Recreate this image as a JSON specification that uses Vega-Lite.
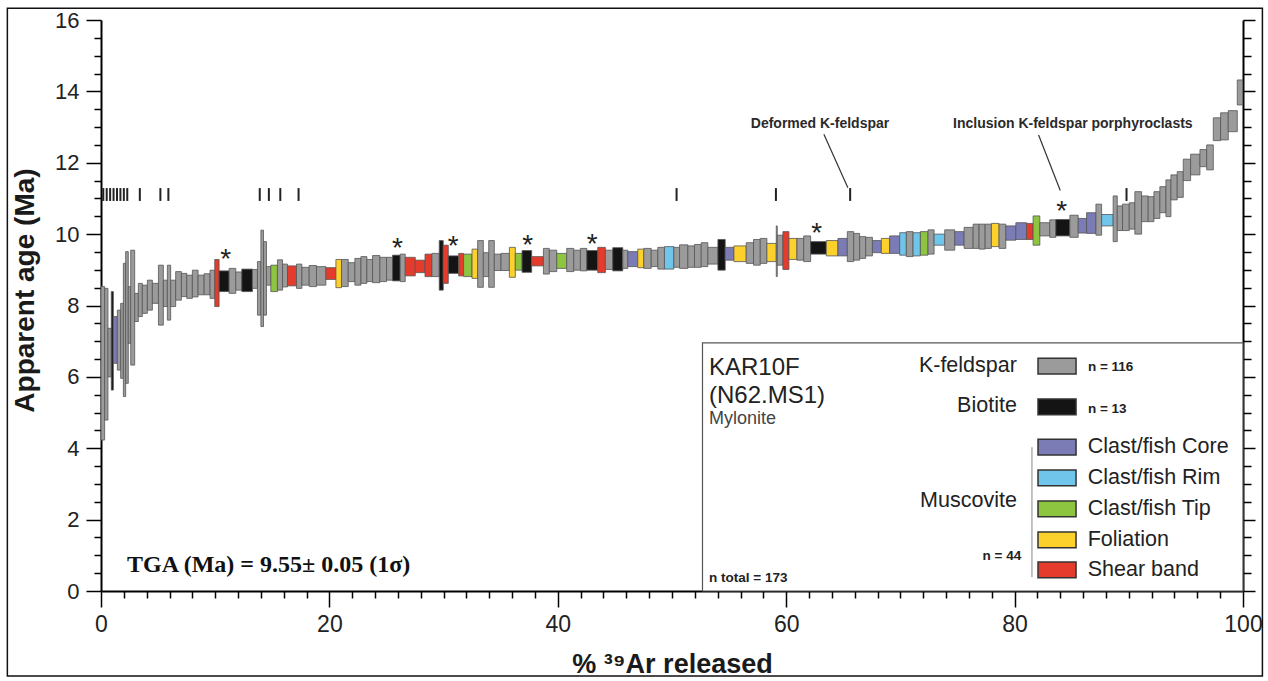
{
"$schema": "https://vega.github.io/schema/vega-lite/v6.json",
"width": 1142, "height": 571,
"autosize": "none",
"padding": {"left": 101, "top": 20, "right": 25, "bottom": 90},
"background": "white",
"config": {"font": "Liberation Sans", "view": {"stroke": null}, "axis": {"grid": false}},
"resolve": {"axis": {"y": "independent", "x": "independent"}},
"datasets": {
"steps": [
{"x0":0.00,"x1":0.32,"lo":4.23,"hi":8.53,"mineral":"K-feldspar"},
{"x0":0.32,"x1":0.61,"lo":4.79,"hi":8.48,"mineral":"K-feldspar"},
{"x0":0.61,"x1":0.90,"lo":6.00,"hi":7.36,"mineral":"K-feldspar"},
{"x0":0.90,"x1":1.08,"lo":5.63,"hi":8.39,"mineral":"Biotite"},
{"x0":1.08,"x1":1.43,"lo":6.38,"hi":7.69,"mineral":"Clast/fish Core"},
{"x0":1.43,"x1":1.72,"lo":6.19,"hi":7.87,"mineral":"K-feldspar"},
{"x0":1.72,"x1":1.96,"lo":5.96,"hi":8.06,"mineral":"K-feldspar"},
{"x0":1.96,"x1":2.16,"lo":5.45,"hi":9.18,"mineral":"K-feldspar"},
{"x0":2.16,"x1":2.39,"lo":5.82,"hi":9.51,"mineral":"K-feldspar"},
{"x0":2.39,"x1":2.60,"lo":6.94,"hi":8.53,"mineral":"K-feldspar"},
{"x0":2.60,"x1":2.95,"lo":6.33,"hi":9.55,"mineral":"K-feldspar"},
{"x0":2.95,"x1":3.27,"lo":7.55,"hi":8.34,"mineral":"K-feldspar"},
{"x0":3.27,"x1":3.62,"lo":7.69,"hi":8.62,"mineral":"K-feldspar"},
{"x0":3.62,"x1":4.06,"lo":7.78,"hi":8.57,"mineral":"K-feldspar"},
{"x0":4.06,"x1":4.50,"lo":7.87,"hi":8.71,"mineral":"K-feldspar"},
{"x0":4.50,"x1":5.03,"lo":8.06,"hi":8.62,"mineral":"K-feldspar"},
{"x0":5.03,"x1":5.46,"lo":7.45,"hi":9.13,"mineral":"K-feldspar"},
{"x0":5.46,"x1":5.81,"lo":7.97,"hi":8.71,"mineral":"K-feldspar"},
{"x0":5.81,"x1":6.10,"lo":7.59,"hi":9.13,"mineral":"K-feldspar"},
{"x0":6.10,"x1":6.54,"lo":7.97,"hi":8.71,"mineral":"K-feldspar"},
{"x0":6.54,"x1":7.04,"lo":8.15,"hi":8.95,"mineral":"K-feldspar"},
{"x0":7.04,"x1":7.51,"lo":8.25,"hi":8.90,"mineral":"K-feldspar"},
{"x0":7.51,"x1":8.00,"lo":8.20,"hi":8.85,"mineral":"K-feldspar"},
{"x0":8.00,"x1":8.50,"lo":8.24,"hi":8.99,"mineral":"K-feldspar"},
{"x0":8.50,"x1":9.03,"lo":8.30,"hi":8.85,"mineral":"K-feldspar"},
{"x0":9.03,"x1":9.55,"lo":8.30,"hi":8.89,"mineral":"K-feldspar"},
{"x0":9.55,"x1":9.96,"lo":8.20,"hi":8.99,"mineral":"K-feldspar"},
{"x0":9.96,"x1":10.34,"lo":7.97,"hi":9.29,"mineral":"Shear band"},
{"x0":10.34,"x1":11.22,"lo":8.39,"hi":8.97,"mineral":"Biotite"},
{"x0":11.22,"x1":11.80,"lo":8.34,"hi":9.04,"mineral":"K-feldspar"},
{"x0":11.80,"x1":12.33,"lo":8.43,"hi":8.94,"mineral":"K-feldspar"},
{"x0":12.33,"x1":13.26,"lo":8.39,"hi":9.02,"mineral":"Biotite"},
{"x0":13.26,"x1":13.70,"lo":8.48,"hi":9.01,"mineral":"K-feldspar"},
{"x0":13.70,"x1":14.00,"lo":7.73,"hi":9.23,"mineral":"K-feldspar"},
{"x0":14.00,"x1":14.23,"lo":7.41,"hi":10.11,"mineral":"K-feldspar"},
{"x0":14.23,"x1":14.49,"lo":7.73,"hi":9.79,"mineral":"K-feldspar"},
{"x0":14.49,"x1":14.87,"lo":8.57,"hi":9.09,"mineral":"K-feldspar"},
{"x0":14.87,"x1":15.45,"lo":8.39,"hi":9.13,"mineral":"Clast/fish Tip"},
{"x0":15.45,"x1":15.90,"lo":8.43,"hi":9.28,"mineral":"K-feldspar"},
{"x0":15.90,"x1":16.33,"lo":8.52,"hi":9.16,"mineral":"K-feldspar"},
{"x0":16.33,"x1":17.12,"lo":8.55,"hi":9.11,"mineral":"Shear band"},
{"x0":17.12,"x1":17.59,"lo":8.48,"hi":9.16,"mineral":"K-feldspar"},
{"x0":17.59,"x1":18.23,"lo":8.57,"hi":9.07,"mineral":"K-feldspar"},
{"x0":18.23,"x1":18.87,"lo":8.53,"hi":9.12,"mineral":"K-feldspar"},
{"x0":18.87,"x1":19.69,"lo":8.57,"hi":9.09,"mineral":"K-feldspar"},
{"x0":19.69,"x1":20.57,"lo":8.73,"hi":9.06,"mineral":"Shear band"},
{"x0":20.57,"x1":21.06,"lo":8.50,"hi":9.29,"mineral":"Foliation"},
{"x0":21.06,"x1":21.65,"lo":8.53,"hi":9.29,"mineral":"K-feldspar"},
{"x0":21.65,"x1":22.23,"lo":8.67,"hi":9.20,"mineral":"K-feldspar"},
{"x0":22.23,"x1":22.76,"lo":8.57,"hi":9.32,"mineral":"K-feldspar"},
{"x0":22.76,"x1":23.28,"lo":8.62,"hi":9.37,"mineral":"K-feldspar"},
{"x0":23.28,"x1":23.78,"lo":8.67,"hi":9.29,"mineral":"K-feldspar"},
{"x0":23.78,"x1":24.42,"lo":8.64,"hi":9.40,"mineral":"K-feldspar"},
{"x0":24.42,"x1":25.00,"lo":8.67,"hi":9.35,"mineral":"K-feldspar"},
{"x0":25.00,"x1":25.53,"lo":8.71,"hi":9.35,"mineral":"K-feldspar"},
{"x0":25.53,"x1":26.20,"lo":8.69,"hi":9.41,"mineral":"Biotite"},
{"x0":26.20,"x1":26.64,"lo":8.67,"hi":9.44,"mineral":"K-feldspar"},
{"x0":26.64,"x1":27.52,"lo":8.83,"hi":9.35,"mineral":"Shear band"},
{"x0":27.52,"x1":28.37,"lo":8.92,"hi":9.27,"mineral":"Shear band"},
{"x0":28.37,"x1":28.98,"lo":8.81,"hi":9.44,"mineral":"Shear band"},
{"x0":28.98,"x1":29.62,"lo":8.81,"hi":9.46,"mineral":"K-feldspar"},
{"x0":29.62,"x1":29.97,"lo":8.43,"hi":9.82,"mineral":"Biotite"},
{"x0":29.97,"x1":30.41,"lo":8.62,"hi":9.69,"mineral":"Shear band"},
{"x0":30.41,"x1":31.32,"lo":8.90,"hi":9.39,"mineral":"Biotite"},
{"x0":31.32,"x1":31.75,"lo":8.83,"hi":9.46,"mineral":"Shear band"},
{"x0":31.75,"x1":32.49,"lo":8.81,"hi":9.44,"mineral":"Clast/fish Tip"},
{"x0":32.49,"x1":32.98,"lo":8.76,"hi":9.58,"mineral":"Foliation"},
{"x0":32.98,"x1":33.48,"lo":8.51,"hi":9.82,"mineral":"K-feldspar"},
{"x0":33.48,"x1":33.95,"lo":8.81,"hi":9.48,"mineral":"K-feldspar"},
{"x0":33.95,"x1":34.44,"lo":8.51,"hi":9.82,"mineral":"K-feldspar"},
{"x0":34.44,"x1":35.03,"lo":8.98,"hi":9.44,"mineral":"K-feldspar"},
{"x0":35.03,"x1":35.76,"lo":8.98,"hi":9.46,"mineral":"K-feldspar"},
{"x0":35.76,"x1":36.28,"lo":8.79,"hi":9.63,"mineral":"Foliation"},
{"x0":36.28,"x1":36.87,"lo":8.99,"hi":9.46,"mineral":"Clast/fish Tip"},
{"x0":36.87,"x1":37.71,"lo":8.93,"hi":9.54,"mineral":"Biotite"},
{"x0":37.71,"x1":38.74,"lo":9.11,"hi":9.37,"mineral":"Shear band"},
{"x0":38.74,"x1":39.26,"lo":8.88,"hi":9.60,"mineral":"K-feldspar"},
{"x0":39.26,"x1":39.91,"lo":8.95,"hi":9.55,"mineral":"K-feldspar"},
{"x0":39.91,"x1":40.78,"lo":9.04,"hi":9.46,"mineral":"Clast/fish Tip"},
{"x0":40.78,"x1":41.40,"lo":8.95,"hi":9.60,"mineral":"K-feldspar"},
{"x0":41.40,"x1":41.98,"lo":8.99,"hi":9.55,"mineral":"K-feldspar"},
{"x0":41.98,"x1":42.54,"lo":8.97,"hi":9.60,"mineral":"K-feldspar"},
{"x0":42.54,"x1":43.50,"lo":8.99,"hi":9.54,"mineral":"Biotite"},
{"x0":43.50,"x1":44.17,"lo":8.92,"hi":9.63,"mineral":"Shear band"},
{"x0":44.17,"x1":44.81,"lo":9.01,"hi":9.55,"mineral":"K-feldspar"},
{"x0":44.81,"x1":45.69,"lo":8.97,"hi":9.62,"mineral":"Biotite"},
{"x0":45.69,"x1":46.13,"lo":9.04,"hi":9.55,"mineral":"K-feldspar"},
{"x0":46.13,"x1":47.00,"lo":9.09,"hi":9.51,"mineral":"Clast/fish Core"},
{"x0":47.00,"x1":47.53,"lo":9.06,"hi":9.58,"mineral":"Foliation"},
{"x0":47.53,"x1":48.18,"lo":9.04,"hi":9.60,"mineral":"K-feldspar"},
{"x0":48.18,"x1":48.76,"lo":9.09,"hi":9.55,"mineral":"K-feldspar"},
{"x0":48.76,"x1":49.34,"lo":9.02,"hi":9.63,"mineral":"K-feldspar"},
{"x0":49.34,"x1":50.16,"lo":9.02,"hi":9.65,"mineral":"Clast/fish Rim"},
{"x0":50.16,"x1":50.66,"lo":9.07,"hi":9.63,"mineral":"K-feldspar"},
{"x0":50.66,"x1":51.39,"lo":9.04,"hi":9.70,"mineral":"K-feldspar"},
{"x0":51.39,"x1":51.97,"lo":9.07,"hi":9.67,"mineral":"K-feldspar"},
{"x0":51.97,"x1":52.56,"lo":9.07,"hi":9.71,"mineral":"K-feldspar"},
{"x0":52.56,"x1":53.14,"lo":9.09,"hi":9.76,"mineral":"K-feldspar"},
{"x0":53.14,"x1":54.02,"lo":9.16,"hi":9.63,"mineral":"K-feldspar"},
{"x0":54.02,"x1":54.66,"lo":8.99,"hi":9.85,"mineral":"Biotite"},
{"x0":54.66,"x1":55.42,"lo":9.27,"hi":9.63,"mineral":"Clast/fish Core"},
{"x0":55.42,"x1":56.50,"lo":9.23,"hi":9.67,"mineral":"Foliation"},
{"x0":56.50,"x1":57.14,"lo":9.18,"hi":9.76,"mineral":"K-feldspar"},
{"x0":57.14,"x1":57.73,"lo":9.13,"hi":9.85,"mineral":"K-feldspar"},
{"x0":57.73,"x1":58.31,"lo":9.18,"hi":9.88,"mineral":"K-feldspar"},
{"x0":58.31,"x1":59.13,"lo":9.23,"hi":9.74,"mineral":"Foliation"},
{"x0":59.13,"x1":59.22,"lo":8.81,"hi":10.23,"mineral":"K-feldspar"},
{"x0":59.22,"x1":59.71,"lo":9.13,"hi":9.97,"mineral":"K-feldspar"},
{"x0":59.71,"x1":60.24,"lo":9.01,"hi":10.07,"mineral":"Shear band"},
{"x0":60.24,"x1":60.94,"lo":9.29,"hi":9.88,"mineral":"Foliation"},
{"x0":60.94,"x1":61.53,"lo":9.27,"hi":9.88,"mineral":"K-feldspar"},
{"x0":61.53,"x1":62.14,"lo":9.23,"hi":9.95,"mineral":"K-feldspar"},
{"x0":62.14,"x1":63.51,"lo":9.44,"hi":9.79,"mineral":"Biotite"},
{"x0":63.51,"x1":64.53,"lo":9.39,"hi":9.82,"mineral":"Foliation"},
{"x0":64.53,"x1":65.35,"lo":9.39,"hi":9.88,"mineral":"Clast/fish Core"},
{"x0":65.35,"x1":65.91,"lo":9.23,"hi":10.07,"mineral":"K-feldspar"},
{"x0":65.91,"x1":66.43,"lo":9.27,"hi":10.02,"mineral":"K-feldspar"},
{"x0":66.43,"x1":66.96,"lo":9.32,"hi":9.93,"mineral":"K-feldspar"},
{"x0":66.96,"x1":67.55,"lo":9.39,"hi":9.91,"mineral":"K-feldspar"},
{"x0":67.55,"x1":68.33,"lo":9.48,"hi":9.82,"mineral":"Clast/fish Core"},
{"x0":68.33,"x1":69.06,"lo":9.46,"hi":9.88,"mineral":"Foliation"},
{"x0":69.06,"x1":69.94,"lo":9.46,"hi":9.95,"mineral":"Clast/fish Core"},
{"x0":69.94,"x1":70.52,"lo":9.41,"hi":10.04,"mineral":"Clast/fish Rim"},
{"x0":70.52,"x1":71.11,"lo":9.37,"hi":10.07,"mineral":"K-feldspar"},
{"x0":71.11,"x1":71.75,"lo":9.39,"hi":10.04,"mineral":"Clast/fish Rim"},
{"x0":71.75,"x1":72.42,"lo":9.41,"hi":10.07,"mineral":"Clast/fish Tip"},
{"x0":72.42,"x1":72.95,"lo":9.44,"hi":10.12,"mineral":"K-feldspar"},
{"x0":72.95,"x1":73.88,"lo":9.69,"hi":10.00,"mineral":"Clast/fish Rim"},
{"x0":73.88,"x1":74.76,"lo":9.55,"hi":10.12,"mineral":"K-feldspar"},
{"x0":74.76,"x1":75.58,"lo":9.69,"hi":10.07,"mineral":"Clast/fish Core"},
{"x0":75.58,"x1":76.37,"lo":9.60,"hi":10.19,"mineral":"K-feldspar"},
{"x0":76.37,"x1":76.89,"lo":9.60,"hi":10.28,"mineral":"K-feldspar"},
{"x0":76.89,"x1":77.42,"lo":9.58,"hi":10.28,"mineral":"K-feldspar"},
{"x0":77.42,"x1":77.97,"lo":9.60,"hi":10.28,"mineral":"K-feldspar"},
{"x0":77.97,"x1":78.64,"lo":9.65,"hi":10.30,"mineral":"Foliation"},
{"x0":78.64,"x1":79.23,"lo":9.60,"hi":10.28,"mineral":"K-feldspar"},
{"x0":79.23,"x1":80.11,"lo":9.83,"hi":10.23,"mineral":"Clast/fish Core"},
{"x0":80.11,"x1":81.04,"lo":9.85,"hi":10.32,"mineral":"Clast/fish Core"},
{"x0":81.04,"x1":81.62,"lo":9.85,"hi":10.30,"mineral":"Shear band"},
{"x0":81.62,"x1":82.21,"lo":9.69,"hi":10.51,"mineral":"Clast/fish Tip"},
{"x0":82.21,"x1":83.08,"lo":9.95,"hi":10.32,"mineral":"K-feldspar"},
{"x0":83.08,"x1":83.61,"lo":9.91,"hi":10.40,"mineral":"K-feldspar"},
{"x0":83.61,"x1":84.84,"lo":9.95,"hi":10.41,"mineral":"Biotite"},
{"x0":84.84,"x1":85.57,"lo":9.91,"hi":10.53,"mineral":"K-feldspar"},
{"x0":85.57,"x1":86.30,"lo":10.03,"hi":10.44,"mineral":"Clast/fish Core"},
{"x0":86.30,"x1":87.12,"lo":10.02,"hi":10.60,"mineral":"Clast/fish Core"},
{"x0":87.12,"x1":87.62,"lo":9.97,"hi":10.84,"mineral":"K-feldspar"},
{"x0":87.62,"x1":88.63,"lo":10.23,"hi":10.55,"mineral":"Clast/fish Rim"},
{"x0":88.63,"x1":88.99,"lo":9.79,"hi":11.07,"mineral":"K-feldspar"},
{"x0":88.99,"x1":89.45,"lo":10.10,"hi":10.79,"mineral":"K-feldspar"},
{"x0":89.45,"x1":90.04,"lo":10.10,"hi":10.84,"mineral":"K-feldspar"},
{"x0":90.04,"x1":90.53,"lo":10.14,"hi":10.88,"mineral":"K-feldspar"},
{"x0":90.53,"x1":91.12,"lo":10.00,"hi":11.19,"mineral":"K-feldspar"},
{"x0":91.12,"x1":91.70,"lo":10.35,"hi":11.07,"mineral":"K-feldspar"},
{"x0":91.70,"x1":92.20,"lo":10.35,"hi":11.05,"mineral":"K-feldspar"},
{"x0":92.20,"x1":92.72,"lo":10.44,"hi":11.19,"mineral":"K-feldspar"},
{"x0":92.72,"x1":93.25,"lo":10.60,"hi":11.33,"mineral":"K-feldspar"},
{"x0":93.25,"x1":93.69,"lo":10.49,"hi":11.52,"mineral":"K-feldspar"},
{"x0":93.69,"x1":94.24,"lo":10.96,"hi":11.66,"mineral":"K-feldspar"},
{"x0":94.24,"x1":94.77,"lo":11.03,"hi":11.75,"mineral":"K-feldspar"},
{"x0":94.77,"x1":95.41,"lo":11.50,"hi":12.10,"mineral":"K-feldspar"},
{"x0":95.41,"x1":96.23,"lo":11.66,"hi":12.24,"mineral":"K-feldspar"},
{"x0":96.23,"x1":96.82,"lo":11.89,"hi":12.37,"mineral":"K-feldspar"},
{"x0":96.82,"x1":97.40,"lo":11.80,"hi":12.50,"mineral":"K-feldspar"},
{"x0":97.40,"x1":98.04,"lo":12.62,"hi":13.26,"mineral":"K-feldspar"},
{"x0":98.04,"x1":98.71,"lo":12.64,"hi":13.40,"mineral":"K-feldspar"},
{"x0":98.71,"x1":99.50,"lo":12.87,"hi":13.46,"mineral":"K-feldspar"},
{"x0":99.50,"x1":99.97,"lo":13.62,"hi":14.32,"mineral":"K-feldspar"}
],
"markers": [{"x":0.2},{"x":0.5},{"x":0.8},{"x":1.1},{"x":1.4},{"x":1.7},{"x":2.0},{"x":2.3},{"x":3.4},{"x":5.2},{"x":5.9},{"x":13.9},{"x":14.7},{"x":15.7},{"x":17.3},{"x":50.4},{"x":59.1},{"x":65.6},{"x":89.8}],
"stars": [{"x":10.92,"y":9.51},{"x":25.95,"y":9.81},{"x":30.85,"y":9.85},{"x":37.36,"y":9.9},{"x":43.02,"y":9.93},{"x":62.67,"y":10.23},{"x":84.12,"y":10.84}],
"notes": [{"label":"Deformed K-feldspar","x":62.96,"y":12.97},{"label":"Inclusion K-feldspar porphyroclasts","x":85.1,"y":12.97}],
"callouts": [{"x":63.3,"y":12.8,"x2":65.4,"y2":11.3},{"x":82.1,"y":12.78,"x2":84.0,"y2":11.22}],
"swatches": [
{"mineral":"K-feldspar","lo":6.08,"hi":6.52},
{"mineral":"Biotite","lo":4.94,"hi":5.38},
{"mineral":"Clast/fish Core","lo":3.81,"hi":4.25},
{"mineral":"Clast/fish Rim","lo":2.95,"hi":3.39},
{"mineral":"Clast/fish Tip","lo":2.08,"hi":2.52},
{"mineral":"Foliation","lo":1.21,"hi":1.65},
{"mineral":"Shear band","lo":0.37,"hi":0.81}],
"groups": [{"label":"K-feldspar","y":6.30},{"label":"Biotite","y":5.18},{"label":"Muscovite","y":2.52}],
"cats": [{"label":"Clast/fish Core","y":4.03},{"label":"Clast/fish Rim","y":3.17},{"label":"Clast/fish Tip","y":2.30},{"label":"Foliation","y":1.43},{"label":"Shear band","y":0.59}],
"counts": [{"label":"n = 116","x":86.42,"y":6.28},{"label":"n = 13","x":86.42,"y":5.10},{"label":"n = 44","x":77.2,"y":0.98},{"label":"n total = 173","x":53.24,"y":0.36}],
"sample": [{"label":"KAR10F","x":53.24,"y":6.05},{"label":"(N62.MS1)","x":53.24,"y":5.27}]
},
"layer": [
{"data": {"name": "steps"}, "mark": {"type": "rect", "stroke": "#555", "strokeWidth": 0.8},
 "encoding": {
  "x": {"field": "x0", "type": "quantitative", "scale": {"domain": [0,100], "nice": false, "zero": false},
   "axis": {"orient": "bottom", "values": [0,20,40,60,80,100], "format": "d",
    "tickSize": 16, "tickColor": "#000", "tickWidth": 1.5, "domainColor": "#000", "domainWidth": 2,
    "labelFontSize": 23, "labelColor": "#222", "labelPadding": 6, "labelFlush": false, "labelOverlap": false,
    "title": "% ³⁹Ar released", "titleFontSize": 27, "titleFontWeight": "bold", "titleColor": "#1a1a1a", "titlePadding": 15}},
  "x2": {"field": "x1"},
  "y": {"field": "lo", "type": "quantitative", "scale": {"domain": [0,16], "nice": false, "zero": false},
   "axis": {"orient": "left", "values": [0,2,4,6,8,10,12,14,16], "format": "d",
    "tickSize": 15, "tickColor": "#000", "tickWidth": 1.5, "domainColor": "#000", "domainWidth": 2,
    "labelFontSize": 22, "labelColor": "#222", "labelPadding": 7, "labelFlush": false, "labelOverlap": false,
    "title": "Apparent age (Ma)", "titleFontSize": 28, "titleFontWeight": "bold", "titleColor": "#1a1a1a",
    "titleX": -62, "titleY": 270, "titleAngle": -90, "titleAlign": "center", "titleBaseline": "bottom"}},
  "y2": {"field": "hi"},
  "color": {"field": "mineral", "type": "nominal", "legend": null,
   "scale": {"domain": ["K-feldspar","Biotite","Clast/fish Core","Clast/fish Rim","Clast/fish Tip","Foliation","Shear band"],
    "range": ["#9b9b9b","#141414","#7b7cb6","#6fc6ea","#8dc541","#fcd12c","#e53b2c"]}}}},
{"data": {"values": [{}]}, "mark": {"type": "rect", "filled": false, "stroke": "#111", "strokeWidth": 1.5},
 "encoding": {"x": {"datum": -8.2, "type": "quantitative", "scale": {"domain": [0,100], "nice": false, "zero": false}, "axis": null}, "x2": {"datum": 101.7},
  "y": {"datum": -2.38, "type": "quantitative", "scale": {"domain": [0,16], "nice": false, "zero": false}, "axis": null}, "y2": {"datum": 16.33}}},
{"data": {"name": "markers"}, "mark": {"type": "rule", "stroke": "#222", "strokeWidth": 2},
 "encoding": {"x": {"field": "x", "type": "quantitative", "scale": {"domain": [0,100], "nice": false, "zero": false},
   "axis": {"orient": "bottom", "values": [2,4,6,8,10,12,14,16,18,22,24,26,28,30,32,34,36,38,42,44,46,48,50,52,54,56,58,62,64,66,68,70,72,74,76,78,82,84,86,88,90,92,94,96,98],
    "labels": false, "title": null, "domain": false, "tickSize": 7, "tickColor": "#000", "tickWidth": 1.5}},
  "y": {"datum": 10.93, "type": "quantitative", "scale": {"domain": [0,16], "nice": false, "zero": false}, "axis": null}, "y2": {"datum": 11.29}}},
{"data": {"name": "stars"}, "mark": {"type": "text", "text": "*", "fontSize": 28, "dy": 16, "baseline": "alphabetic", "align": "center", "color": "#222"},
 "encoding": {"x": {"field": "x", "type": "quantitative", "scale": {"domain": [0,100], "nice": false, "zero": false}, "axis": null},
  "y": {"field": "y", "type": "quantitative", "scale": {"domain": [0,16], "nice": false, "zero": false},
   "axis": {"orient": "right", "values": [0,2,4,6,8,10,12,14,16],
    "labels": false, "title": null, "tickSize": 12, "tickColor": "#000", "tickWidth": 1.5, "domainColor": "#000", "domainWidth": 2}}}},
{"data": {"name": "callouts"}, "mark": {"type": "rule", "stroke": "#333", "strokeWidth": 1.2},
 "encoding": {"x": {"field": "x", "type": "quantitative", "scale": {"domain": [0,100], "nice": false, "zero": false}, "axis": null}, "x2": {"field": "x2"},
  "y": {"field": "y", "type": "quantitative", "scale": {"domain": [0,16], "nice": false, "zero": false},
   "axis": {"orient": "left", "values": [0.5,1,1.5,2.5,3,3.5,4.5,5,5.5,6.5,7,7.5,8.5,9,9.5,10.5,11,11.5,12.5,13,13.5,14.5,15,15.5],
    "labels": false, "title": null, "domain": false, "tickSize": 7, "tickColor": "#000", "tickWidth": 1.5}}, "y2": {"field": "y2"}}},
{"data": {"name": "notes"}, "mark": {"type": "text", "fontSize": 14, "fontWeight": "bold", "color": "#2a2a2a", "align": "center", "baseline": "alphabetic"},
 "encoding": {"x": {"field": "x", "type": "quantitative", "scale": {"domain": [0,100], "nice": false, "zero": false}, "axis": null},
  "y": {"field": "y", "type": "quantitative", "scale": {"domain": [0,16], "nice": false, "zero": false},
   "axis": {"orient": "right", "values": [0.5,1,1.5,2.5,3,3.5,4.5,5,5.5,6.5,7,7.5,8.5,9,9.5,10.5,11,11.5,12.5,13,13.5,14.5,15,15.5],
    "labels": false, "title": null, "domain": false, "tickSize": 8, "tickColor": "#000", "tickWidth": 1.5}}, "text": {"field": "label"}}},
{"data": {"values": [{"label": "TGA (Ma) = 9.55± 0.05 (1σ)", "x": 2.28, "y": 0.53}]},
 "mark": {"type": "text", "font": "Liberation Serif", "fontSize": 24, "fontWeight": "bold", "color": "#111", "align": "left", "baseline": "alphabetic"},
 "encoding": {"x": {"field": "x", "type": "quantitative", "scale": {"domain": [0,100], "nice": false, "zero": false}, "axis": null},
  "y": {"field": "y", "type": "quantitative", "scale": {"domain": [0,16], "nice": false, "zero": false}, "axis": null}, "text": {"field": "label"}}},
{"data": {"values": [{}]}, "mark": {"type": "rect", "fill": "white", "stroke": "#555", "strokeWidth": 1.2},
 "encoding": {"x": {"datum": 52.67, "type": "quantitative", "scale": {"domain": [0,100], "nice": false, "zero": false}, "axis": null}, "x2": {"datum": 100},
  "y": {"datum": 0, "type": "quantitative", "scale": {"domain": [0,16], "nice": false, "zero": false}, "axis": null}, "y2": {"datum": 6.95}}},
{"data": {"name": "swatches"}, "mark": {"type": "rect", "stroke": "#333", "strokeWidth": 1.5},
 "encoding": {"x": {"datum": 82.05, "type": "quantitative", "scale": {"domain": [0,100], "nice": false, "zero": false}, "axis": null}, "x2": {"datum": 85.38},
  "y": {"field": "lo", "type": "quantitative", "scale": {"domain": [0,16], "nice": false, "zero": false}, "axis": null}, "y2": {"field": "hi"},
  "color": {"field": "mineral", "type": "nominal", "legend": null}}},
{"data": {"values": [{}]}, "mark": {"type": "rule", "stroke": "#888", "strokeWidth": 1},
 "encoding": {"x": {"datum": 81.52, "type": "quantitative", "scale": {"domain": [0,100], "nice": false, "zero": false}, "axis": null},
  "y": {"datum": 0.39, "type": "quantitative", "scale": {"domain": [0,16], "nice": false, "zero": false}, "axis": null}, "y2": {"datum": 4.03}}},
{"data": {"name": "groups"}, "mark": {"type": "text", "fontSize": 21.5, "color": "#222", "align": "right", "baseline": "middle"},
 "encoding": {"x": {"datum": 80.2, "type": "quantitative", "scale": {"domain": [0,100], "nice": false, "zero": false}, "axis": null},
  "y": {"field": "y", "type": "quantitative", "scale": {"domain": [0,16], "nice": false, "zero": false}, "axis": null}, "text": {"field": "label"}}},
{"data": {"name": "cats"}, "mark": {"type": "text", "fontSize": 21.5, "color": "#222", "align": "left", "baseline": "middle"},
 "encoding": {"x": {"datum": 86.4, "type": "quantitative", "scale": {"domain": [0,100], "nice": false, "zero": false}, "axis": null},
  "y": {"field": "y", "type": "quantitative", "scale": {"domain": [0,16], "nice": false, "zero": false}, "axis": null}, "text": {"field": "label"}}},
{"data": {"name": "counts"}, "mark": {"type": "text", "fontSize": 13.5, "fontWeight": "bold", "color": "#222", "align": "left", "baseline": "middle"},
 "encoding": {"x": {"field": "x", "type": "quantitative", "scale": {"domain": [0,100], "nice": false, "zero": false}, "axis": null},
  "y": {"field": "y", "type": "quantitative", "scale": {"domain": [0,16], "nice": false, "zero": false}, "axis": null}, "text": {"field": "label"}}},
{"data": {"name": "sample"}, "mark": {"type": "text", "fontSize": 24, "color": "#222", "align": "left", "baseline": "alphabetic"},
 "encoding": {"x": {"field": "x", "type": "quantitative", "scale": {"domain": [0,100], "nice": false, "zero": false}, "axis": null},
  "y": {"field": "y", "type": "quantitative", "scale": {"domain": [0,16], "nice": false, "zero": false}, "axis": null}, "text": {"field": "label"}}},
{"data": {"values": [{"label": "Mylonite", "x": 53.24, "y": 4.68}]}, "mark": {"type": "text", "fontSize": 18, "color": "#444", "align": "left", "baseline": "alphabetic"},
 "encoding": {"x": {"field": "x", "type": "quantitative", "scale": {"domain": [0,100], "nice": false, "zero": false}, "axis": null},
  "y": {"field": "y", "type": "quantitative", "scale": {"domain": [0,16], "nice": false, "zero": false}, "axis": null}, "text": {"field": "label"}}}
]
}
